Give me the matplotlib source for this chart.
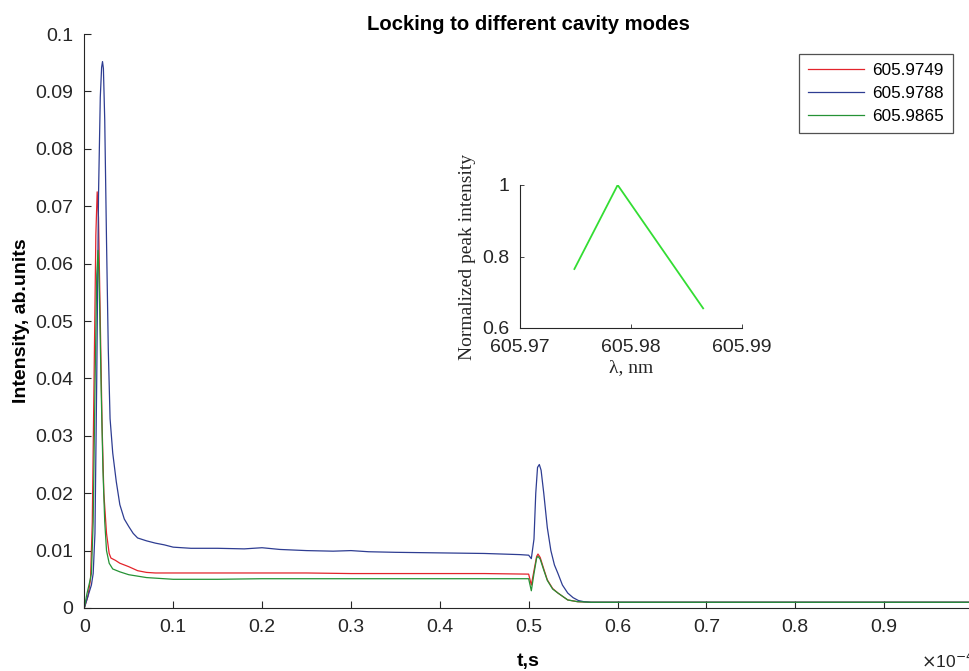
import matplotlib
matplotlib.use('Agg')
import matplotlib.pyplot as plt

# ---------------- data (time in units of 1e-4 s) ----------------
labels = ['605.9749', '605.9788', '605.9865']

t_red = [0.0, 0.004, 0.007, 0.009, 0.011, 0.013, 0.0145, 0.016, 0.018, 0.020, 0.022,
         0.025, 0.028, 0.030, 0.035, 0.040, 0.050, 0.060, 0.070, 0.080, 0.10, 0.15,
         0.20, 0.25, 0.30, 0.35, 0.40, 0.45, 0.50, 0.503, 0.506, 0.509, 0.5105,
         0.513, 0.517, 0.521, 0.527, 0.533, 0.544, 0.555, 0.57, 0.60, 0.70, 0.80,
         0.90, 1.0]
i_red = [0.0, 0.002, 0.005, 0.015, 0.040, 0.065, 0.0725, 0.068, 0.050, 0.032, 0.020,
         0.013, 0.0095, 0.0087, 0.0083, 0.0078, 0.0072, 0.0065, 0.0062, 0.0061, 0.0061,
         0.0061, 0.0061, 0.0061, 0.0060, 0.0060, 0.0060, 0.0060, 0.0059, 0.0040,
         0.0065, 0.0090, 0.0094, 0.0088, 0.0068, 0.0049, 0.0034, 0.0026, 0.0014,
         0.0011, 0.0010, 0.0010, 0.0010, 0.0010, 0.0010, 0.0010]

t_blue = [0.0, 0.004, 0.008, 0.010, 0.012, 0.014, 0.016, 0.018, 0.0195, 0.0205, 0.0215,
          0.023, 0.025, 0.027, 0.029, 0.032, 0.036, 0.040, 0.045, 0.050, 0.055, 0.060,
          0.070, 0.080, 0.090, 0.10, 0.12, 0.15, 0.18, 0.20, 0.22, 0.25, 0.28, 0.30,
          0.32, 0.35, 0.40, 0.45, 0.49, 0.50, 0.503, 0.506, 0.508, 0.510, 0.512,
          0.514, 0.517, 0.521, 0.525, 0.529, 0.533, 0.538, 0.544, 0.550, 0.556,
          0.562, 0.57, 0.60, 0.70, 0.80, 0.90, 1.0]
i_blue = [0.0, 0.002, 0.004, 0.006, 0.013, 0.040, 0.072, 0.089, 0.0942, 0.0952, 0.0940,
          0.085, 0.064, 0.045, 0.033, 0.027, 0.022, 0.018, 0.0155, 0.0142, 0.0130,
          0.0122, 0.0117, 0.0113, 0.0110, 0.0106, 0.0104, 0.0104, 0.0103, 0.0105,
          0.0102, 0.0100, 0.0099, 0.0100, 0.0098, 0.0097, 0.0096, 0.0095, 0.0093,
          0.0092, 0.0086, 0.012, 0.020, 0.0245, 0.0250, 0.0240, 0.0200, 0.0140,
          0.0100, 0.0075, 0.0060, 0.0040, 0.0026, 0.0018, 0.0013, 0.0011, 0.0010,
          0.0010, 0.0010, 0.0010, 0.0010, 0.0010]

t_green = [0.0, 0.003, 0.006, 0.008, 0.010, 0.012, 0.014, 0.0155, 0.017, 0.019, 0.021,
           0.023, 0.025, 0.028, 0.032, 0.040, 0.050, 0.070, 0.10, 0.15, 0.20, 0.30,
           0.40, 0.50, 0.503, 0.506, 0.509, 0.5105, 0.513, 0.517, 0.521, 0.527,
           0.533, 0.544, 0.555, 0.57, 0.60, 0.70, 0.80, 0.90, 1.0]
i_green = [0.0, 0.0025, 0.0045, 0.0060, 0.015, 0.038, 0.058, 0.0623, 0.055, 0.038,
           0.024, 0.015, 0.010, 0.0078, 0.0068, 0.0063, 0.0058, 0.0053, 0.0050, 0.0050,
           0.0051, 0.0051, 0.0051, 0.0051, 0.0030, 0.0060, 0.0087, 0.0090, 0.0085,
           0.0066, 0.0048, 0.0033, 0.0026, 0.0014, 0.0011, 0.0010, 0.0010, 0.0010,
           0.0010, 0.0010, 0.0010]

# inset: normalized peak intensity vs wavelength
inset_wl = [605.9749, 605.9788, 605.9865]
inset_norm = [0.765, 1.0, 0.655]

x_ticks = [0, 0.1, 0.2, 0.3, 0.4, 0.5, 0.6, 0.7, 0.8, 0.9, 1.0]
x_ticklabels = ['0', '0.1', '0.2', '0.3', '0.4', '0.5', '0.6', '0.7', '0.8', '0.9', '1']
y_ticks = [0, 0.01, 0.02, 0.03, 0.04, 0.05, 0.06, 0.07, 0.08, 0.09, 0.1]
y_ticklabels = ['0', '0.01', '0.02', '0.03', '0.04', '0.05', '0.06', '0.07', '0.08', '0.09', '0.1']

# ---------------- style ----------------
plt.rcParams['font.family'] = ['Liberation Sans', 'DejaVu Sans']
AX = '#262626'
c_red, c_blue, c_green = '#e3242b', '#2e3d92', '#259235'

fig = plt.figure(figsize=(9.7, 6.71), dpi=100)
ax = fig.add_axes([0.0869, 0.0939, 0.9162, 0.8554])

ax.plot(t_red, i_red, color=c_red, lw=0.9, label=labels[0])
ax.plot(t_blue, i_blue, color=c_blue, lw=0.9, label=labels[1])
ax.plot(t_green, i_green, color=c_green, lw=0.9, label=labels[2])

ax.set_xlim(0, 1)
ax.set_ylim(0, 0.1)
ax.set_xticks(x_ticks)
ax.set_xticklabels(x_ticklabels)
ax.set_yticks(y_ticks)
ax.set_yticklabels(y_ticklabels)
for s in ['top', 'right']:
    ax.spines[s].set_visible(False)
for s in ['left', 'bottom']:
    ax.spines[s].set_color(AX)
    ax.spines[s].set_linewidth(0.8)
ax.tick_params(direction='in', length=5, width=0.8, color=AX, labelcolor=AX,
               labelsize=14, pad=8)

ax.set_title('Locking to different cavity modes', fontsize=14.6, fontweight='bold',
             color='black', pad=2)
ax.set_xlabel('t,s', fontsize=14, fontweight='bold', color='black', labelpad=12)
ax.set_ylabel('Intensity, ab.units', fontsize=14, fontweight='bold', color='black',
              labelpad=4)
fig.text(921 / 970, 1 - 668 / 671, r'$\times$10$^{-4}$', fontsize=12.5, color=AX,
         ha='left', va='baseline')

leg = ax.legend(loc='upper right', bbox_to_anchor=(953 / 970, 1 - 54 / 671),
                bbox_transform=fig.transFigure, borderaxespad=0, fontsize=12.3,
                frameon=True, fancybox=False, edgecolor=AX, handlelength=3.3,
                handletextpad=0.45, labelspacing=0.45, borderpad=0.55)
leg.get_frame().set_linewidth(0.9)

# ---------------- inset ----------------
axi = fig.add_axes([520 / 970, 1 - 328 / 671, 222 / 970, 143 / 671])
axi.plot(inset_wl, inset_norm, color='#33dd33', lw=1.3)
axi.set_xlim(605.97, 605.99)
axi.set_ylim(0.6, 1.0)
axi.set_xticks([605.97, 605.98, 605.99])
axi.set_xticklabels(['605.97', '605.98', '605.99'])
axi.set_yticks([0.6, 0.8, 1.0])
axi.set_yticklabels(['0.6', '0.8', '1'])
for s in ['top', 'right']:
    axi.spines[s].set_visible(False)
for s in ['left', 'bottom']:
    axi.spines[s].set_color(AX)
    axi.spines[s].set_linewidth(0.8)
axi.tick_params(direction='in', length=3, width=0.6, color=AX, labelcolor=AX,
                labelsize=14, pad=8)
axi.patch.set_alpha(0)
axi.set_ylabel('Normalized peak intensity', fontsize=14, family='Liberation Serif',
               color=AX, labelpad=4)
axi.set_xlabel('λ, nm', fontsize=14, family='Liberation Serif', color=AX, labelpad=2)

fig.savefig('out.png', dpi=100)
